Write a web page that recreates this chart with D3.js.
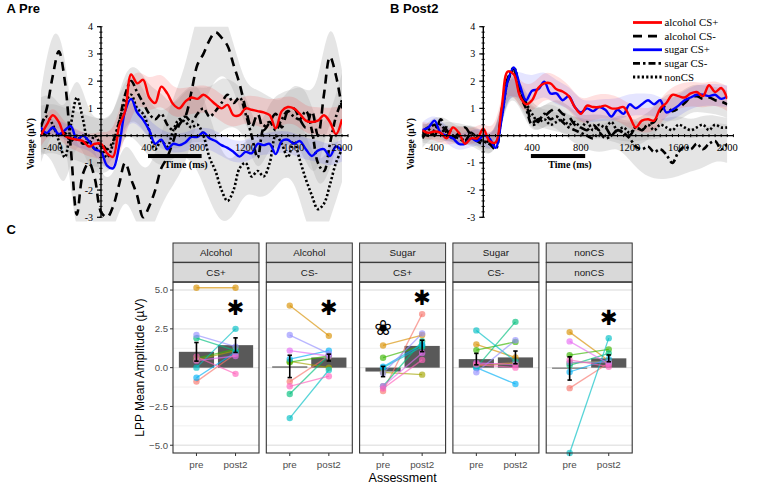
<!DOCTYPE html>
<html><head><meta charset="utf-8">
<script src="https://cdn.jsdelivr.net/npm/d3@7"></script>
<style>body{margin:0;background:#fff} svg{display:block}</style>
</head><body>
<svg id="chart" width="767" height="485"></svg>
<script>
// ---------------- DATA ----------------
const times = d3.range(-500, 2001, 50);          // ms sample grid (51)
const bandTimes = d3.range(-500, 2001, 100);     // ms grid for CI bands (26)
const seriesNames = ["alcohol CS+", "alcohol CS-", "sugar CS+", "sugar CS-", "nonCS"];

// Panel A (Pre) waveforms, µV
const preAlcoholCSplus = [0.0,0.4,0.75,0.5,0.0,-0.1,-0.15,-0.2,-0.4,-0.3,-0.3,-0.65,-0.78,0.35,0.9,2.25,1.92,2.05,1.4,1.2,1.8,1.55,1.15,1.0,1.25,1.4,1.35,1.5,1.35,1.15,1.0,1.13,0.75,0.75,1.0,0.95,0.9,0.85,0.75,0.27,0.9,1.05,1.0,0.8,0.55,0.5,0.55,0.75,0.5,0.05,0.6];
const preAlcoholCSminus = [0.3,1.0,2.2,3.1,2.0,-0.5,-2.9,-1.4,-1.0,-1.6,-2.8,-3.0,-2.6,-1.8,-1.0,-1.6,-2.2,-3.0,-2.6,-2.0,-1.2,-0.8,-0.2,0.4,0.7,1.6,2.6,3.0,3.5,3.8,3.6,3.3,2.6,1.9,1.0,0.3,0.8,0.2,0.5,0.8,0.3,0.9,1.0,0.6,0.3,0.9,0.0,1.5,2.9,2.2,1.0];
const preSugarCSplus = [0.3,0.1,0.3,0.05,0.2,0.35,-0.15,0.0,-0.2,-0.5,-0.6,-1.1,-1.2,-0.4,0.9,1.35,0.85,0.58,0.2,-0.3,-0.15,-0.5,-0.3,-0.35,-0.25,-0.05,-0.05,0.12,-0.1,-0.2,-0.35,-0.45,-0.6,-0.77,-0.6,-0.65,-0.3,-0.35,-0.3,-0.68,-0.2,-0.15,-0.3,-0.2,-0.5,-0.75,-0.55,-0.5,-0.75,-0.4,-0.55];
const preSugarCSminus = [0.2,0.0,0.3,0.0,0.1,-0.2,0.0,-0.3,-0.2,-0.5,-0.3,-0.5,-0.2,0.5,1.5,2.0,1.6,1.2,0.8,0.6,0.8,0.4,0.2,0.5,0.7,0.5,0.8,1.0,0.7,0.9,1.2,1.5,1.2,1.4,0.8,0.0,-0.8,0.3,0.5,0.2,0.6,0.9,0.7,0.6,0.9,0.2,-1.0,-1.3,-0.3,0.7,1.3];
const preNonCS = [0.4,0.7,0.4,-0.2,-0.8,0.4,1.4,0.6,-0.3,0.0,-0.4,-0.8,-0.3,0.5,1.2,1.5,1.0,0.8,0.2,-0.5,-0.2,-0.4,0.2,0.6,0.5,0.3,0.4,0.0,-0.8,-1.3,-2.0,-2.4,-2.0,-1.2,-1.0,-1.5,-1.3,-1.5,-1.0,0.0,-0.3,-0.8,-0.2,-0.9,-1.6,-2.2,-2.7,-2.5,-1.8,-1.0,-0.5];
// Panel A CI half-widths (100 ms grid)
const preCiAlcoholCSplus = [0.4,0.5,0.4,0.4,0.4,0.5,0.8,0.9,0.6,0.6,0.6,0.55,0.5,0.5,0.5,0.5,0.5,0.5,0.55,0.55,0.5,0.5,0.5,0.5,0.5,0.5];
const preCiAlcoholCSminus = [1.3,2.0,1.4,1.6,1.5,1.2,1.0,1.0,1.2,1.2,1.3,1.6,1.8,2.0,1.8,1.2,0.8,0.8,0.9,0.9,0.9,1.0,1.3,1.7,1.8,1.4];
const preCiSugarCSplus = [0.3,0.3,0.3,0.3,0.3,0.35,0.4,0.4,0.35,0.35,0.35,0.35,0.35,0.35,0.4,0.4,0.4,0.4,0.4,0.4,0.4,0.4,0.4,0.4,0.4,0.4];
const preCiSugarCSminus = [0.9,0.9,0.9,0.9,0.9,0.9,0.8,1.0,1.0,1.0,0.8,0.8,1.0,1.0,1.0,1.0,0.8,0.8,0.8,0.8,1.0,1.0,1.0,1.2,1.0,1.0];
const preCiNonCS = [1.0,1.2,1.5,1.2,1.0,1.0,1.0,1.0,1.2,1.0,1.0,1.0,1.2,1.6,1.6,1.3,1.0,1.0,1.0,1.2,1.2,1.3,1.6,1.6,1.3,1.2];

// Panel B (Post2) waveforms, µV
const postAlcoholCSplus = [0.2,0.1,0.15,0.1,-0.1,0.3,0.1,-0.3,-0.1,-0.1,0.25,-0.2,-0.25,1.0,2.35,2.25,1.45,1.15,1.3,1.75,1.92,1.92,1.7,1.62,1.45,1.05,0.8,1.1,1.05,1.05,1.1,1.0,1.0,1.05,0.7,0.3,0.55,0.6,0.55,1.0,1.2,1.5,1.45,1.4,1.55,1.6,1.45,1.85,1.6,1.75,1.35];
const postAlcoholCSminus = [0.1,0.3,0.0,0.6,0.2,-0.1,0.1,0.3,0.0,-0.2,-0.3,-0.2,-0.4,0.9,2.1,2.45,1.6,1.2,0.5,0.6,0.7,0.9,1.0,0.8,0.7,0.4,0.3,0.2,0.4,0.2,0.3,0.0,0.2,0.1,0.0,0.3,0.2,0.4,0.5,0.9,1.1,0.9,1.0,1.2,1.4,1.45,1.35,1.4,1.3,1.25,1.15];
const postSugarCSplus = [0.2,0.3,0.55,0.1,0.0,-0.1,-0.3,-0.3,-0.1,-0.2,0.0,-0.1,-0.45,0.6,2.0,2.5,1.85,1.3,1.65,1.7,1.98,1.55,1.55,1.3,1.45,1.05,0.85,1.0,0.9,1.05,0.95,0.7,0.95,0.8,1.15,1.0,1.15,1.3,1.15,1.3,0.85,0.95,1.1,1.3,1.4,1.5,1.5,1.45,1.5,1.35,1.45];
const postSugarCSminus = [-0.1,0.2,0.4,0.1,0.3,0.0,-0.1,-0.2,0.1,-0.1,-0.2,-0.3,-0.5,0.8,2.0,2.4,1.5,1.0,0.4,0.5,0.8,0.6,0.7,0.5,0.3,0.2,0.1,0.0,-0.1,0.1,-0.1,0.0,0.2,0.1,-0.1,-0.4,-0.5,-0.4,-0.6,-0.5,-0.7,-1.0,-0.6,-0.4,-0.5,-0.3,-0.5,-0.3,-0.2,-0.5,-0.3];
const postNonCS = [0.1,0.0,0.2,0.4,0.1,-0.1,0.0,-0.2,0.1,-0.1,-0.2,-0.3,-0.3,0.7,2.0,2.5,1.7,1.2,0.8,0.5,0.6,0.4,0.5,0.6,0.4,0.5,0.3,0.5,0.2,0.4,0.3,0.5,0.2,0.3,0.1,0.3,0.2,0.4,0.2,0.4,0.3,0.2,0.4,0.3,0.2,0.3,0.4,0.2,0.4,0.3,0.3];
// Panel B CI half-widths
const postCiAlcoholCSplus = [0.3,0.3,0.3,0.3,0.3,0.3,0.3,0.4,0.5,0.5,0.5,0.5,0.45,0.45,0.45,0.45,0.45,0.45,0.45,0.45,0.45,0.45,0.45,0.45,0.45,0.45];
const postCiAlcoholCSminus = [0.35,0.35,0.35,0.35,0.35,0.35,0.35,0.4,0.4,0.4,0.4,0.4,0.4,0.4,0.4,0.45,0.45,0.5,0.5,0.5,0.5,0.5,0.5,0.5,0.5,0.5];
const postCiSugarCSplus = [0.3,0.3,0.3,0.3,0.3,0.3,0.3,0.4,0.5,0.5,0.45,0.45,0.4,0.4,0.4,0.4,0.4,0.4,0.4,0.4,0.4,0.4,0.4,0.4,0.4,0.4];
const postCiSugarCSminus = [0.35,0.35,0.35,0.35,0.35,0.35,0.35,0.4,0.4,0.4,0.4,0.4,0.45,0.5,0.5,0.5,0.6,0.8,0.9,1.0,0.9,0.9,0.8,0.7,0.7,0.7];
const postCiNonCS = [0.3,0.3,0.3,0.3,0.3,0.3,0.3,0.35,0.35,0.35,0.35,0.35,0.35,0.35,0.35,0.35,0.35,0.35,0.35,0.35,0.35,0.35,0.35,0.35,0.35,0.35];

const erpYTicks = [-3, -2, -1, 1, 2, 3, 4];
const erpXTicks = [-400, 400, 800, 1200, 1600, 2000];
const lppWindow = [390, 835];

// Panel C data
const facetTop = ["Alcohol", "Alcohol", "Sugar", "Sugar", "nonCS"];
const facetBottom = ["CS+", "CS-", "CS+", "CS-", "nonCS"];
const assessments = ["pre", "post2"];
const subjectColors = ["#F8766D","#D89000","#A3A500","#39B600","#00BF7D","#00BFC4","#00B0F6","#9590FF","#E76BF3","#FF62BC"];
const alcCSplusPre   = [-0.9, 5.15, 0.5, 0.6, 1.9, 0.0, -0.65, 2.1, 0.45, 0.7];
const alcCSplusPost  = [0.9, 5.15, 1.1, 1.2, 1.1, 2.5, 1.0, 1.35, 0.75, -0.4];
const alcCSminusPre  = [-0.9, 4.0, 0.4, 0.35, -1.7, -3.25, 0.55, 2.1, 1.1, -1.2];
const alcCSminusPost = [0.75, 2.05, 0.0, 0.75, 0.8, -0.15, 1.1, 0.9, 0.75, -0.55];
const sugCSplusPre   = [-1.5, 1.43, -0.3, 0.64, -1.2, 0.0, 0.06, -0.35, -1.2, -1.35];
const sugCSplusPost  = [3.45, 2.1, -0.45, 1.4, 1.7, 1.35, 1.5, 2.2, 0.95, 0.5];
const sugCSminusPre  = [0.2, 1.5, 0.1, 1.13, 0.0, 2.4, 0.0, -0.3, 0.3, 0.2];
const sugCSminusPost = [0.3, 0.65, 0.3, 1.66, 2.95, 0.4, -1.05, 1.77, 0.2, 0.0];
const nonCSPre       = [-1.32, 2.29, 0.3, 0.81, 0.15, -5.5, -0.28, 0.34, 1.69, 0.5];
const nonCSPost      = [0.3, 0.45, 0.4, 1.18, 0.92, 1.9, 0.55, 0.35, 0.25, 0.06];
const barMeanPre  = [1.02, 0.08, -0.25, 0.55, -0.05];
const barMeanPost = [1.45, 0.65, 1.40, 0.66, 0.60];
const barSePre    = [0.60, 0.72, 0.33, 0.37, 0.75];
const barSePost   = [0.47, 0.22, 0.37, 0.41, 0.22];
const starFacets = [0, 1, 2, 4];
const starValues = [3.83, 3.83, 4.47, 3.19];
const flowerFacet = 2, flowerValue = 2.55;
const yTicksC = [-5, -2.5, 0, 2.5, 5];
const yMinorC = [-3.75, -1.25, 1.25, 3.75];

// ---------------- DRAW ----------------
const svg = d3.select("#chart");
const serif = "'Liberation Serif','Times New Roman',serif";
const sans = "'Liberation Sans',Arial,Helvetica,sans-serif";

const styles = [
  {color:"#ff0000", dash:null, band:"#ff0000", op:0.12},
  {color:"#000000", dash:"9,6", band:"#a8a8a8", op:0.30},
  {color:"#0000ff", dash:null, band:"#0000ff", op:0.10},
  {color:"#000000", dash:"7,3,2.5,3", band:"#a8a8a8", op:0.30},
  {color:"#000000", dash:"2.2,2.2", band:"#a8a8a8", op:0.30}
];

function drawErp(cfg) {
  const g = svg.append("g");
  const x = d3.scaleLinear().domain([0, 2000]).range([cfg.x0, cfg.x0 + 2000 * cfg.k]);
  const y = d3.scaleLinear().domain([-3, 4]).range([217.3, 26.7]);
  const clipId = "clip" + cfg.id;
  svg.append("clipPath").attr("id", clipId).append("rect")
    .attr("x", x(-500)).attr("y", y(4)).attr("width", x(2000) - x(-500)).attr("height", y(-3.15) - y(4));
  const bands = g.append("g").attr("clip-path", `url(#${clipId})`);
  const order = [4, 3, 1, 2, 0];
  [1, 3, 4, 2, 0].forEach(si => {
    const vals = cfg.series[si], ci = cfg.ci[si];
    const area = d3.area().curve(d3.curveBasis)
      .x((d, i) => x(bandTimes[i]))
      .y0((d, i) => y(vals[times.indexOf(bandTimes[i])] - d))
      .y1((d, i) => y(vals[times.indexOf(bandTimes[i])] + d));
    bands.append("path").attr("d", area(ci)).attr("fill", styles[si].band).attr("opacity", styles[si].op);
  });
  const lines = g.append("g").attr("clip-path", `url(#${clipId})`);
  const line = d3.line().curve(d3.curveCatmullRom.alpha(0.5)).x((d, i) => x(times[i])).y(d => y(d));
  order.forEach(si => {
    lines.append("path").attr("d", line(cfg.series[si])).attr("fill", "none")
      .attr("stroke", styles[si].color).attr("stroke-width", si === 0 || si === 2 ? 2.4 : 2.6)
      .attr("stroke-dasharray", styles[si].dash);
  });
  const ax = g.append("g");
  ax.append("line").attr("x1", x(-500)).attr("x2", x(2050)).attr("y1", y(0)).attr("y2", y(0)).attr("stroke", "#000").attr("stroke-width", 1.2);
  ax.append("line").attr("x1", x(0)).attr("x2", x(0)).attr("y1", y(4)).attr("y2", y(-3)).attr("stroke", "#000").attr("stroke-width", 1.4);
  d3.range(-500, 2051, 50).forEach(t => {
    ax.append("line").attr("x1", x(t)).attr("x2", x(t)).attr("y1", y(0) - 1.5).attr("y2", y(0) + 1.5).attr("stroke", "#000").attr("stroke-width", 1);
  });
  d3.range(-3, 4.01, 0.2).forEach(v => {
    ax.append("line").attr("x1", x(0) - 1.8).attr("x2", x(0) + 1.5).attr("y1", y(v)).attr("y2", y(v)).attr("stroke", "#000").attr("stroke-width", 0.9);
  });
  d3.range(-3, 5, 1).forEach(v => {
    ax.append("line").attr("x1", x(0) - 4).attr("x2", x(0)).attr("y1", y(v)).attr("y2", y(v)).attr("stroke", "#000").attr("stroke-width", 1.2);
  });
  erpYTicks.forEach(v => {
    ax.append("text").attr("x", x(0) - 8).attr("y", y(v) + 3.5).attr("text-anchor", "end")
      .attr("font-family", serif).attr("font-size", 10).text(v);
  });
  erpXTicks.forEach(t => {
    ax.append("text").attr("x", x(t)).attr("y", y(0) + 15).attr("text-anchor", "middle")
      .attr("font-family", serif).attr("font-size", 10.5).text(t);
  });
  ax.append("rect").attr("x", x(lppWindow[0])).attr("width", x(lppWindow[1]) - x(lppWindow[0]))
    .attr("y", y(-0.75) - 2).attr("height", 4).attr("fill", "#000");
  ax.append("text").attr("x", cfg.timeX).attr("y", y(-0.75) + 12).attr("text-anchor", "middle")
    .attr("font-family", serif).attr("font-weight", "bold").attr("font-size", 10).text("Time (ms)");
  ax.append("text").attr("transform", `translate(${cfg.voltX},${y(-0.3)}) rotate(-90)`).attr("text-anchor", "middle")
    .attr("font-family", serif).attr("font-weight", "bold").attr("font-size", 9.5).text("Voltage (µV)");
  svg.append("text").attr("x", cfg.labelX).attr("y", 13).attr("font-family", sans).attr("font-weight", "bold")
    .attr("font-size", 13).text(cfg.label);
  return {x, y};
}

drawErp({id: "A", x0: 101, k: 0.1205, label: "A Pre", labelX: 6.5, timeX: 186, voltX: 34,
  series: [preAlcoholCSplus, preAlcoholCSminus, preSugarCSplus, preSugarCSminus, preNonCS],
  ci: [preCiAlcoholCSplus, preCiAlcoholCSminus, preCiSugarCSplus, preCiSugarCSminus, preCiNonCS]});
drawErp({id: "B", x0: 483.3, k: 0.122, label: "B Post2", labelX: 390, timeX: 570, voltX: 414,
  series: [postAlcoholCSplus, postAlcoholCSminus, postSugarCSplus, postSugarCSminus, postNonCS],
  ci: [postCiAlcoholCSplus, postCiAlcoholCSminus, postCiSugarCSplus, postCiSugarCSminus, postCiNonCS]});

// Legend
const lg = svg.append("g");
const legY = d3.scaleLinear().domain([0, 4]).range([22.5, 77]);
seriesNames.forEach((n, i) => {
  lg.append("line").attr("x1", 633).attr("x2", 662).attr("y1", legY(i)).attr("y2", legY(i))
    .attr("stroke", styles[i].color).attr("stroke-width", 2.8).attr("stroke-dasharray", styles[i].dash);
  lg.append("text").attr("x", 664.5).attr("y", legY(i) + 3.6).attr("font-family", serif).attr("font-size", 10.8).text(n);
});

// ---------------- Panel C ----------------
svg.append("text").attr("x", 6.5).attr("y", 234).attr("font-family", sans).attr("font-weight", "bold").attr("font-size", 13).text("C");
const prePts = [alcCSplusPre, alcCSminusPre, sugCSplusPre, sugCSminusPre, nonCSPre];
const postPts = [alcCSplusPost, alcCSminusPost, sugCSplusPost, sugCSminusPost, nonCSPost];
const panelW = 86, panelGap = 7.3, panelL = 173, panelTop = 282.3, panelBot = 453;
const yC = d3.scaleLinear().domain([-5.5, 5.5]).range([panelBot, panelTop]);
const facetX = d3.scaleLinear().domain([0, 1]).range([panelL, panelL + panelW + panelGap]);

facetTop.forEach((ft, f) => {
  const g = svg.append("g").attr("transform", `translate(${facetX(f)},0)`);
  const xp = d3.scalePoint().domain(assessments).range([0, panelW]).padding(0.6);
  const bw = xp.step() * 0.9;
  [[243, ft], [262.6, facetBottom[f]]].forEach(([sy, txt]) => {
    g.append("rect").attr("x", 0).attr("y", sy).attr("width", panelW).attr("height", 19.2)
      .attr("fill", "#d9d9d9").attr("stroke", "#333").attr("stroke-width", 1);
    g.append("text").attr("x", panelW / 2).attr("y", sy + 13.3).attr("text-anchor", "middle")
      .attr("font-family", sans).attr("font-size", 9.8).attr("fill", "#1a1a1a").text(txt);
  });
  g.append("rect").attr("x", 0).attr("y", panelTop).attr("width", panelW).attr("height", panelBot - panelTop).attr("fill", "#fff");
  yMinorC.forEach(v => g.append("line").attr("x1", 0).attr("x2", panelW).attr("y1", yC(v)).attr("y2", yC(v)).attr("stroke", "#f0f0f0").attr("stroke-width", 1));
  yTicksC.forEach(v => g.append("line").attr("x1", 0).attr("x2", panelW).attr("y1", yC(v)).attr("y2", yC(v)).attr("stroke", "#e6e6e6").attr("stroke-width", 1.4));
  const means = [barMeanPre[f], barMeanPost[f]], ses = [barSePre[f], barSePost[f]];
  assessments.forEach((a, k) => {
    g.append("rect").attr("x", xp(a) - bw / 2).attr("width", bw)
      .attr("y", yC(Math.max(0, means[k]))).attr("height", Math.max(1, Math.abs(yC(means[k]) - yC(0))))
      .attr("fill", "#595959");
  });
  prePts[f].forEach((v, s) => {
    g.append("line").attr("x1", xp("pre")).attr("x2", xp("post2")).attr("y1", yC(v)).attr("y2", yC(postPts[f][s]))
      .attr("stroke", subjectColors[s]).attr("stroke-width", 1.3).attr("opacity", 0.65);
  });
  prePts[f].forEach((v, s) => {
    [[xp("pre"), v], [xp("post2"), postPts[f][s]]].forEach(([px, pv]) => {
      g.append("circle").attr("cx", px).attr("cy", yC(pv)).attr("r", 3.2).attr("fill", subjectColors[s]).attr("opacity", 0.65);
    });
  });
  assessments.forEach((a, k) => {
    const cx = xp(a), lo = yC(means[k] - ses[k]), hi = yC(means[k] + ses[k]);
    g.append("line").attr("x1", cx).attr("x2", cx).attr("y1", lo).attr("y2", hi).attr("stroke", "#000").attr("stroke-width", 1.6);
    [lo, hi].forEach(yy => g.append("line").attr("x1", cx - 2.2).attr("x2", cx + 2.2).attr("y1", yy).attr("y2", yy).attr("stroke", "#000").attr("stroke-width", 1.6));
  });
  g.append("rect").attr("x", 0).attr("y", panelTop).attr("width", panelW).attr("height", panelBot - panelTop)
    .attr("fill", "none").attr("stroke", "#333").attr("stroke-width", 1.1);
  assessments.forEach(a => {
    g.append("line").attr("x1", xp(a)).attr("x2", xp(a)).attr("y1", panelBot).attr("y2", panelBot + 3).attr("stroke", "#333");
    g.append("text").attr("x", xp(a)).attr("y", panelBot + 14.5).attr("text-anchor", "middle")
      .attr("font-family", sans).attr("font-size", 9.8).attr("fill", "#4d4d4d").text(a);
  });
  const si = starFacets.indexOf(f);
  if (si >= 0) {
    g.append("text").attr("x", xp("post2")).attr("y", yC(starValues[si])).attr("text-anchor", "middle")
      .attr("dominant-baseline", "central").attr("font-family", "'DejaVu Sans',sans-serif").attr("font-size", 21)
      .attr("fill", "#000").text("✱");
  }
  if (f === flowerFacet) {
    g.append("text").attr("x", xp("pre")).attr("y", yC(flowerValue)).attr("text-anchor", "middle")
      .attr("dominant-baseline", "central").attr("font-family", "'DejaVu Sans',sans-serif").attr("font-size", 21)
      .attr("fill", "#000").text("❀");
  }
});
const ya = svg.append("g");
yTicksC.forEach(v => {
  ya.append("line").attr("x1", panelL - 3).attr("x2", panelL).attr("y1", yC(v)).attr("y2", yC(v)).attr("stroke", "#333");
  ya.append("text").attr("x", panelL - 5).attr("y", yC(v) + 3.4).attr("text-anchor", "end")
    .attr("font-family", sans).attr("font-size", 9.6).attr("fill", "#4d4d4d").text(d3.format(".1f")(v));
});
svg.append("text").attr("transform", `translate(144,${(panelTop + panelBot) / 2}) rotate(-90)`).attr("text-anchor", "middle")
  .attr("font-family", sans).attr("font-size", 12).attr("fill", "#000").text("LPP Mean Amplitude (µV)");
svg.append("text").attr("x", (panelL + facetX(4) + panelW) / 2).attr("y", 482).attr("text-anchor", "middle")
  .attr("font-family", sans).attr("font-size", 12.5).attr("fill", "#000").text("Assessment");
</script>
</body></html>
